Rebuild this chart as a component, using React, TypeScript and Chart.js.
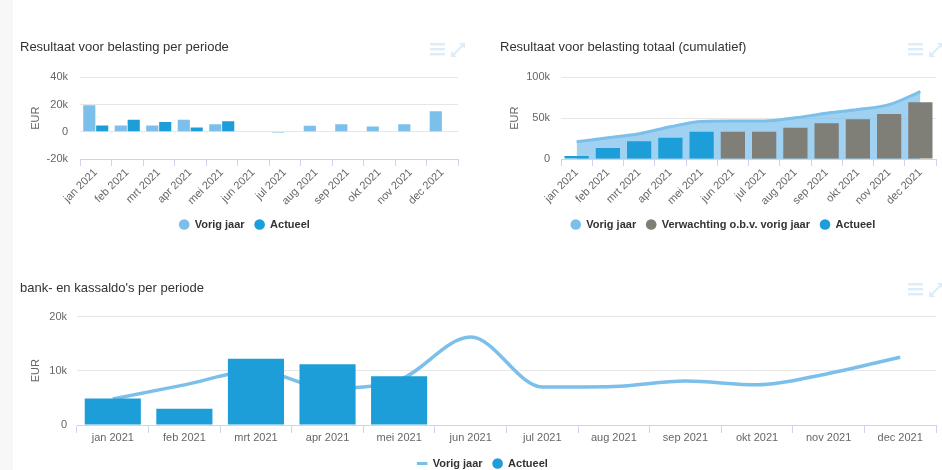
import React, { useEffect, useRef } from 'react';
import { Chart, registerables } from 'chart.js';

Chart.register(...registerables);

const FONT = '"Liberation Sans", Arial, Helvetica, sans-serif';

// ---- data ----
const maanden = ['jan 2021', 'feb 2021', 'mrt 2021', 'apr 2021', 'mei 2021', 'jun 2021', 'jul 2021', 'aug 2021', 'sep 2021', 'okt 2021', 'nov 2021', 'dec 2021'];

const resultaatVorigJaar = [19500, 4600, 4600, 8900, 5500, 0, -700, 4400, 5600, 3900, 5600, 15100];
const resultaatActueel = [4600, 8900, 7200, 3100, 7700, null, null, null, null, null, null, null];
const resultaatTicks = [-20000, 0, 20000, 40000];

const cumulatiefVorigJaar = [21000, 26000, 31000, 39500, 46000, 46500, 46500, 50500, 56000, 60500, 66500, 82500];
const cumulatiefVerwachting = [null, null, null, null, null, 33500, 33500, 38300, 43700, 48700, 55000, 69500];
const cumulatiefActueel = [3800, 13600, 21800, 26000, 33500, null, null, null, null, null, null, null];
const cumulatiefTicks = [0, 50000, 100000];

const saldoVorigJaar = [4800, 7400, 10000, 6800, 8300, 16200, 7000, 7100, 8100, 7400, 9500, 12500];
const saldoActueel = [4900, 3000, 12200, 11200, 9000, null, null, null, null, null, null, null];
const saldoTicks = [0, 10000, 20000];

// ---- styling ----
const LICHTBLAUW = '#7cbfeb';
const AREA = 'rgba(124,191,235,0.72)';
const BLAUW = '#1e9ed9';
const GRIJS = '#7f7e77';

const fmt = (v: number) => (v === 0 ? '0' : `${v / 1000}k`);

function xAs(rotated: boolean, height: number, padRight: number) {
  return {
    type: 'category',
    offset: true,
    grid: {
      offset: true,
      drawOnChartArea: false,
      drawTicks: true,
      tickLength: rotated ? 7 : 8,
      color: '#ccd6eb',
      lineWidth: 1,
    },
    border: { display: true, color: '#ccd6eb', width: 1 },
    ticks: {
      autoSkip: false,
      maxRotation: rotated ? 45 : 0,
      minRotation: rotated ? 45 : 0,
      color: '#666666',
      font: { family: FONT, size: 11 },
      padding: rotated ? 0 : -2,
    },
    afterFit: (s: any) => {
      s.height = height;
      s.paddingLeft = 0;
      s.paddingRight = padRight;
      s.paddingTop = 0;
      s.paddingBottom = 0;
    },
  };
}

function yAs(ticks: number[], width: number, titlePad: number, labelPad: number) {
  return {
    min: ticks[0],
    max: ticks[ticks.length - 1],
    ticks: {
      stepSize: ticks[1] - ticks[0],
      color: '#666666',
      font: { family: FONT, size: 11 },
      padding: labelPad,
      callback: (v: any) => fmt(Number(v)),
    },
    grid: { color: '#e6e6e6', lineWidth: 1, drawTicks: false },
    border: { display: false },
    title: {
      display: true,
      text: 'EUR',
      color: '#666666',
      font: { family: FONT, size: 11 },
      padding: { top: titlePad, bottom: 0 },
    },
    afterFit: (s: any) => {
      s.width = width;
      s.paddingTop = 0;
      s.paddingBottom = 0;
    },
  };
}

function common(title: string, titlePad: { top: number; bottom: number }, x: any, y: any) {
  return {
    responsive: false,
    maintainAspectRatio: false,
    animation: false,
    events: [],
    layout: { padding: 0 },
    plugins: {
      title: {
        display: true,
        text: title,
        align: 'start',
        color: '#333333',
        font: { family: FONT, size: 13, weight: 'normal' },
        padding: titlePad,
      },
      legend: {
        display: true,
        position: 'bottom',
        labels: {
          usePointStyle: true,
          boxWidth: 10,
          boxHeight: 7.5,
          padding: 10,
          color: '#333333',
          font: { family: FONT, size: 11, weight: 'bold' },
          sort: (a: any, b: any) => a.datasetIndex - b.datasetIndex,
        },
      },
      tooltip: { enabled: false },
    },
    scales: { x, y },
  };
}

const chart1 = () => ({
  type: 'bar',
  data: {
    labels: maanden,
    datasets: [
      { label: 'Vorig jaar', data: resultaatVorigJaar, backgroundColor: LICHTBLAUW, borderWidth: 0, pointStyle: 'circle', categoryPercentage: 0.82, barPercentage: 0.94 },
      { label: 'Actueel', data: resultaatActueel, backgroundColor: BLAUW, borderWidth: 0, pointStyle: 'circle', categoryPercentage: 0.82, barPercentage: 0.94 },
    ],
  },
  options: common('Resultaat voor belasting per periode', { top: 9.2, bottom: 22.5 }, xAs(true, 50, 11), yAs(resultaatTicks, 60, 9.4, 12)),
});

const chart2 = () => ({
  type: 'bar',
  data: {
    labels: maanden,
    datasets: [
      {
        type: 'line', label: 'Vorig jaar', data: cumulatiefVorigJaar, borderColor: LICHTBLAUW, backgroundColor: AREA,
        fill: 'origin', tension: 0.4, cubicInterpolationMode: 'monotone', borderWidth: 3, pointRadius: 0, pointStyle: 'circle',
        pointBackgroundColor: LICHTBLAUW, pointBorderWidth: 0, order: 3,
      },
      { label: 'Verwachting o.b.v. vorig jaar', data: cumulatiefVerwachting, backgroundColor: GRIJS, borderWidth: 0, grouped: false, pointStyle: 'circle', categoryPercentage: 0.8, barPercentage: 0.97, order: 1 },
      { label: 'Actueel', data: cumulatiefActueel, backgroundColor: BLAUW, borderWidth: 0, grouped: false, pointStyle: 'circle', categoryPercentage: 0.8, barPercentage: 0.97, order: 2 },
    ],
  },
  options: common('Resultaat voor belasting totaal (cumulatief)', { top: 9.2, bottom: 22.5 }, xAs(true, 50, 10), yAs(cumulatiefTicks, 61, 8.4, 11)),
});

const chart3 = () => ({
  type: 'bar',
  data: {
    labels: maanden,
    datasets: [
      {
        type: 'line', label: 'Vorig jaar', data: saldoVorigJaar, borderColor: LICHTBLAUW, backgroundColor: LICHTBLAUW,
        fill: false, tension: 0.4, cubicInterpolationMode: 'monotone', borderWidth: 3.5, pointRadius: 0, pointStyle: 'line',
        pointBorderColor: LICHTBLAUW, pointBackgroundColor: LICHTBLAUW, pointBorderWidth: 3, order: 2,
      },
      { label: 'Actueel', data: saldoActueel, backgroundColor: BLAUW, borderWidth: 0, pointStyle: 'circle', categoryPercentage: 0.8, barPercentage: 0.98, order: 1 },
    ],
  },
  options: common("bank- en kassaldo's per periode", { top: 10.5, bottom: 20.4 }, xAs(false, 23, 9), yAs(saldoTicks, 57, 9.4, 10)),
});

function ChartCanvas({ left, top, width, height, make }: any) {
  const ref = useRef<HTMLCanvasElement>(null);
  useEffect(() => {
    const chart = new Chart(ref.current as HTMLCanvasElement, make() as any);
    return () => chart.destroy();
  }, []);
  return (
    <canvas
      ref={ref}
      width={width}
      height={height}
      style={{ position: 'absolute', left, top, width, height, display: 'block' }}
    />
  );
}

function Icons({ left, top }: { left: number; top: number }) {
  const c = '#dcecf8';
  return (
    <svg width={38} height={18} style={{ position: 'absolute', left, top }}>
      <rect x={0} y={2} width={15} height={2.4} fill={c} />
      <rect x={0} y={7} width={15} height={2.4} fill={c} />
      <rect x={0} y={12} width={15} height={2.4} fill={c} />
      <line x1={23} y1={14} x2={33} y2={4} stroke={c} strokeWidth={2} />
      <polygon points="21,16 21,10 27,16" fill={c} />
      <polygon points="35,2 35,8 29,2" fill={c} />
    </svg>
  );
}

export default function App() {
  return (
    <div style={{ position: 'fixed', left: 0, top: 0, width: 942, height: 470, overflow: 'hidden', background: '#ffffff' }}>
      <div style={{ position: 'absolute', left: 0, top: 0, width: 13, height: 470, background: '#f7f7f7' }} />
      <ChartCanvas left={20} top={30} width={449} height={210} make={chart1} />
      <ChartCanvas left={500} top={30} width={446} height={210} make={chart2} />
      <ChartCanvas left={20} top={270} width={925} height={209} make={chart3} />
      <Icons left={430} top={41} />
      <Icons left={908} top={41} />
      <Icons left={908} top={281} />
    </div>
  );
}
